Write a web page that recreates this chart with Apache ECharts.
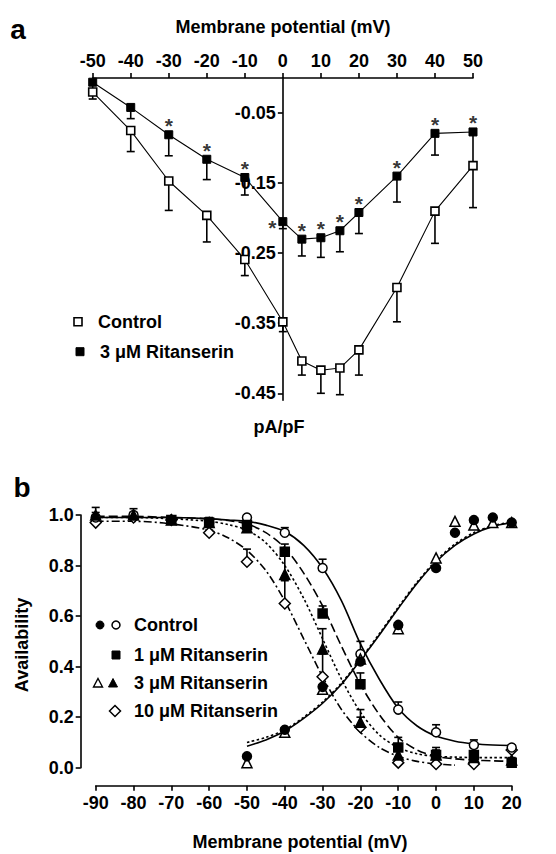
<!DOCTYPE html>
<html><head><meta charset="utf-8">
<script src="https://cdn.jsdelivr.net/npm/echarts@6/dist/echarts.min.js"></script>
<style>html,body{margin:0;padding:0;background:#fff}#c{width:556px;height:854px}</style>
</head><body><div id="c"></div>
<script>
// ---------- Panel a : current density vs membrane potential ----------
const voltA   = [-50,-40,-30,-20,-10,0,5,10,15,20,30,40,50];
const ctrlA   = [-0.020,-0.075,-0.147,-0.196,-0.259,-0.348,-0.404,-0.417,-0.414,-0.388,-0.299,-0.190,-0.125];
const ctrlASem= [0.010,0.030,0.042,0.038,0.023,0.014,0.020,0.033,0.038,0.036,0.049,0.046,0.060];
const ritA    = [-0.006,-0.042,-0.081,-0.116,-0.142,-0.205,-0.230,-0.228,-0.218,-0.192,-0.140,-0.079,-0.077];
const ritASem = [0.010,0.016,0.030,0.029,0.025,0.010,0.024,0.028,0.030,0.030,0.037,0.031,0.048];
const sigA    = [-30,-20,-10,0,5,10,15,20,30,40,50];
const yTicksA = [-0.05,-0.15,-0.25,-0.35,-0.45];

// ---------- Panel b : availability ----------
const voltInact   = [-90,-80,-70,-60,-50,-40,-30,-20,-10,0,10,20];
const ctrlInact   = [0.99,1.00,0.98,0.97,0.99,0.93,0.79,0.45,0.23,0.14,0.09,0.08];
const ctrlInactSem= [0.01,0.01,0.01,0.01,0.01,0.02,0.035,0.05,0.03,0.03,0.02,0.01];
const r1Inact     = [1.02,1.01,0.98,0.97,0.96,0.855,0.61,0.33,0.08,0.05,0.05,0.02];
const r1InactSem  = [0.01,0.015,0.01,0.02,0.02,0.03,0.03,0.045,0.04,0.03,0.03,0.01];
const r3Inact     = [1.00,1.00,0.98,0.97,0.95,0.765,0.47,0.18,0.05,0.05,0.04,0.03];
const r3InactSem  = [0.01,0.01,0.01,0.01,0.02,0.08,0.08,0.05,0.03,0.02,0.02,0.01];
const r10Inact    = [0.97,0.99,0.98,0.93,0.815,0.65,0.36,0.16,0.02,0.015,0.015,0.07];
const r10InactSem = [0.01,0.01,0.01,0.01,0.05,0.09,0.09,0.04,0.02,0.02,0.02,0.01];
const voltAct     = [-50,-40,-30,-20,-10,0,5,10,15,20];
const ctrlAct     = [0.045,0.15,0.32,0.42,0.565,0.79,0.93,0.98,0.99,0.97];
const r3Act       = [0.02,0.14,0.31,0.43,0.55,0.83,0.975,0.96,0.97,0.97];
// fitted curves
const fitInactV     = [-90,-80,-70,-60,-55,-50,-45,-40,-35,-30,-25,-20,-15,-10,-5,0,5,10,15,20];
const fitCtrlInact  = [0.99,0.99,0.99,0.985,0.98,0.975,0.96,0.935,0.88,0.79,0.66,0.49,0.35,0.235,0.165,0.125,0.105,0.095,0.09,0.088];
const fitR1Inact    = [0.995,0.995,0.99,0.985,0.978,0.965,0.93,0.87,0.77,0.64,0.48,0.33,0.21,0.12,0.07,0.045,0.035,0.03,0.027,0.025];
const fitR3Inact    = [0.99,0.99,0.985,0.975,0.962,0.94,0.89,0.80,0.67,0.51,0.35,0.22,0.13,0.08,0.055,0.045,0.042,0.04,0.04,0.04];
const fitR10V       = [-90,-80,-70,-60,-55,-50,-45,-40,-35,-30,-25,-20,-15,-10,-5,0,5];
const fitR10Inact   = [0.975,0.975,0.965,0.94,0.91,0.86,0.78,0.66,0.51,0.36,0.23,0.14,0.08,0.045,0.025,0.015,0.01];
const fitActV       = [-50,-45,-40,-35,-30,-25,-20,-15,-10,-5,0,5,10,15,20];
const fitCtrlAct    = [0.085,0.11,0.145,0.195,0.255,0.33,0.425,0.525,0.63,0.73,0.815,0.88,0.925,0.955,0.97];
const fitR3Act      = [0.10,0.12,0.15,0.20,0.26,0.335,0.43,0.53,0.635,0.735,0.82,0.885,0.93,0.958,0.972];

const FONT = '"Liberation Sans", Arial, Helvetica, sans-serif';
const BLK = '#000';
const zip = (a,b) => a.map((v,i)=>[v,b[i]]);
const lbl = {color:BLK, fontFamily:FONT, fontWeight:'bold', fontSize:18};

function errSeries(xi, xs, ys, sem, dir) {
  return {
    type:'custom', xAxisIndex:xi, yAxisIndex:xi, z:2, silent:true,
    encode:{x:0, y:1},
    data: xs.map((x,i)=>[x, ys[i], ys[i] + dir*sem[i]]),
    renderItem:(params, api) => {
      const p0 = api.coord([api.value(0), api.value(1)]);
      const p1 = api.coord([api.value(0), api.value(2)]);
      const w = 4;
      return {type:'group', children:[
        {type:'line', shape:{x1:p0[0],y1:p0[1],x2:p1[0],y2:p1[1]}, style:{stroke:BLK,lineWidth:1.6}},
        {type:'line', shape:{x1:p1[0]-w,y1:p1[1],x2:p1[0]+w,y2:p1[1]}, style:{stroke:BLK,lineWidth:1.6}}
      ]};
    }
  };
}
function curve(xs, ys, dash) {
  return {type:'line', xAxisIndex:1, yAxisIndex:1, data:zip(xs,ys), smooth:0.3, showSymbol:false, z:1, silent:true,
    lineStyle:{color:BLK, width:1.6, type:dash}};
}
function pts(xs, ys, symbol, size, filled, z) {
  return {type:'scatter', xAxisIndex:1, yAxisIndex:1, data:zip(xs,ys), symbol:symbol, symbolSize:size, z:z||4, silent:true,
    itemStyle:{color: filled ? BLK : '#fff', borderColor:BLK, borderWidth:1.5, opacity:1}};
}

const ritLookup = v => ritA[voltA.indexOf(v)];

const option = {
  animation:false,
  backgroundColor:'#fff',
  grid:[
    {left:92.7, width:380.3, top:78, height:322.3},
    {left:95.7, width:416, top:515, height:252.7}
  ],
  xAxis:[
    {gridIndex:0, type:'value', position:'top', min:-50, max:50, interval:10,
     axisLine:{onZero:false, lineStyle:{color:BLK, width:1.6}},
     axisTick:{length:5, lineStyle:{color:BLK, width:1.6}},
     axisLabel:Object.assign({margin:8}, lbl), splitLine:{show:false}},
    {gridIndex:1, type:'value', position:'bottom', min:-90, max:20, interval:10, offset:18,
     axisLine:{onZero:false, lineStyle:{color:BLK, width:1.6}},
     axisTick:{length:5, lineStyle:{color:BLK, width:1.6}},
     axisLabel:Object.assign({margin:8}, lbl), splitLine:{show:false}}
  ],
  yAxis:[
    {gridIndex:0, type:'value', min:-0.46, max:0, position:'left', offset:-190.15,
     axisLine:{onZero:false, lineStyle:{color:BLK, width:1.6}},
     axisTick:{customValues:yTicksA, length:5, lineStyle:{color:BLK, width:1.6}},
     axisLabel:Object.assign({customValues:yTicksA, margin:7, formatter:v=>v.toFixed(2)}, lbl),
     splitLine:{show:false}},
    {gridIndex:1, type:'value', min:0, max:1, interval:0.2, offset:15,
     axisLine:{onZero:false, lineStyle:{color:BLK, width:1.6}},
     axisTick:{length:5, lineStyle:{color:BLK, width:1.6}},
     axisLabel:Object.assign({margin:7, formatter:v=>v.toFixed(1)}, lbl),
     splitLine:{show:false}}
  ],
  series:[
    // panel a
    errSeries(0, voltA, ctrlA, ctrlASem, -1),
    errSeries(0, voltA, ritA, ritASem, -1),
    {type:'line', xAxisIndex:0, yAxisIndex:0, data:zip(voltA, ctrlA), symbol:'rect', symbolSize:8, z:3, silent:true,
     lineStyle:{color:BLK, width:1.1}, itemStyle:{color:'#fff', borderColor:BLK, borderWidth:1.6}},
    {type:'line', xAxisIndex:0, yAxisIndex:0, data:zip(voltA, ritA), symbol:'rect', symbolSize:8, z:3, silent:true,
     lineStyle:{color:BLK, width:1.1}, itemStyle:{color:BLK, borderColor:BLK, borderWidth:1}},
    {type:'scatter', xAxisIndex:0, yAxisIndex:0, symbolSize:1, z:5, silent:true,
     itemStyle:{color:'rgba(0,0,0,0)'},
     data: sigA.map(v => ({value:[v, ritLookup(v)],
        label: v === 0 ? {position:'left', distance:6, offset:[0,6]} : {position:'top', distance:-2}})),
     label:{show:true, formatter:'*', color:BLK, fontFamily:FONT, fontWeight:'bold', fontSize:21}},
    // panel b curves
    curve(fitInactV, fitCtrlInact, 'solid'),
    curve(fitInactV, fitR1Inact, [9,4]),
    curve(fitInactV, fitR3Inact, [2.5,2.5]),
    curve(fitR10V, fitR10Inact, [8,3,2,3]),
    curve(fitActV, fitCtrlAct, 'solid'),
    curve(fitActV, fitR3Act, [2.5,2.5]),
    // panel b error bars
    errSeries(1, voltInact, ctrlInact, ctrlInactSem, 1),
    errSeries(1, voltInact, r1Inact, r1InactSem, 1),
    errSeries(1, voltInact, r3Inact, r3InactSem, 1),
    errSeries(1, voltInact, r10Inact, r10InactSem, 1),
    // panel b points
    pts(voltInact, r10Inact, 'diamond', 11, false, 4),
    pts(voltInact, ctrlInact, 'circle', 9, false, 4),
    pts(voltAct, r3Act, 'triangle', 10, false, 4),
    pts(voltAct, ctrlAct, 'circle', 9, true, 5),
    pts(voltInact, r3Inact, 'triangle', 10, true, 5),
    pts(voltInact, r1Inact, 'rect', 9, true, 6)
  ],
  graphic:[
    {type:'text', style:{text:'a', x:18, y:29, font:'bold 28px '+FONT, fill:BLK, align:'center', verticalAlign:'middle', textAlign:'center', textVerticalAlign:'middle'}},
    {type:'text', style:{text:'Membrane potential (mV)', x:283, y:27, font:'bold 18px '+FONT, fill:BLK, align:'center', verticalAlign:'middle', textAlign:'center', textVerticalAlign:'middle'}},
    {type:'text', style:{text:'pA/pF', x:279, y:427, font:'bold 18px '+FONT, fill:BLK, align:'center', verticalAlign:'middle', textAlign:'center', textVerticalAlign:'middle'}},
    {type:'rect', shape:{x:74, y:317.7, width:8, height:8}, style:{fill:'#fff', stroke:BLK, lineWidth:1.6}},
    {type:'text', style:{text:'Control', x:98, y:321.7, font:'bold 18px '+FONT, fill:BLK, align:'left', verticalAlign:'middle', textAlign:'left', textVerticalAlign:'middle'}},
    {type:'rect', shape:{x:76, y:347.7, width:8, height:8}, style:{fill:BLK, stroke:BLK, lineWidth:1}},
    {type:'text', style:{text:'3 μM Ritanserin', x:100, y:351.7, font:'bold 18px '+FONT, fill:BLK, align:'left', verticalAlign:'middle', textAlign:'left', textVerticalAlign:'middle'}},

    {type:'text', style:{text:'b', x:22, y:487, font:'bold 28px '+FONT, fill:BLK, align:'center', verticalAlign:'middle', textAlign:'center', textVerticalAlign:'middle'}},
    {type:'text', x:22, y:645, rotation:Math.PI/2, style:{text:'Availability', x:0, y:0, font:'bold 18px '+FONT, fill:BLK, align:'center', verticalAlign:'middle', textAlign:'center', textVerticalAlign:'middle'}},
    {type:'text', style:{text:'Membrane potential (mV)', x:300, y:842, font:'bold 18px '+FONT, fill:BLK, align:'center', verticalAlign:'middle', textAlign:'center', textVerticalAlign:'middle'}},
    // legend b
    {type:'circle', shape:{cx:100, cy:625, r:4}, style:{fill:BLK, stroke:BLK, lineWidth:1}},
    {type:'circle', shape:{cx:116, cy:625, r:4}, style:{fill:'#fff', stroke:BLK, lineWidth:1.5}},
    {type:'text', style:{text:'Control', x:134, y:625, font:'bold 18px '+FONT, fill:BLK, align:'left', verticalAlign:'middle', textAlign:'left', textVerticalAlign:'middle'}},
    {type:'rect', shape:{x:112, y:651, width:8, height:8}, style:{fill:BLK, stroke:BLK, lineWidth:1}},
    {type:'text', style:{text:'1 μM Ritanserin', x:134, y:655, font:'bold 18px '+FONT, fill:BLK, align:'left', verticalAlign:'middle', textAlign:'left', textVerticalAlign:'middle'}},
    {type:'polygon', shape:{points:[[98,678.5],[102.5,687],[93.5,687]]}, style:{fill:'#fff', stroke:BLK, lineWidth:1.4}},
    {type:'polygon', shape:{points:[[113,678.5],[117.5,687],[108.5,687]]}, style:{fill:BLK, stroke:BLK, lineWidth:1}},
    {type:'text', style:{text:'3 μM Ritanserin', x:134, y:683, font:'bold 18px '+FONT, fill:BLK, align:'left', verticalAlign:'middle', textAlign:'left', textVerticalAlign:'middle'}},
    {type:'polygon', shape:{points:[[115,705.5],[120.5,711],[115,716.5],[109.5,711]]}, style:{fill:'#fff', stroke:BLK, lineWidth:1.5}},
    {type:'text', style:{text:'10 μM Ritanserin', x:134, y:711, font:'bold 18px '+FONT, fill:BLK, align:'left', verticalAlign:'middle', textAlign:'left', textVerticalAlign:'middle'}}
  ]
};
const chart = echarts.init(document.getElementById('c'), null, {renderer:'svg', width:556, height:854});
chart.setOption(option);
</script>
</body></html>
